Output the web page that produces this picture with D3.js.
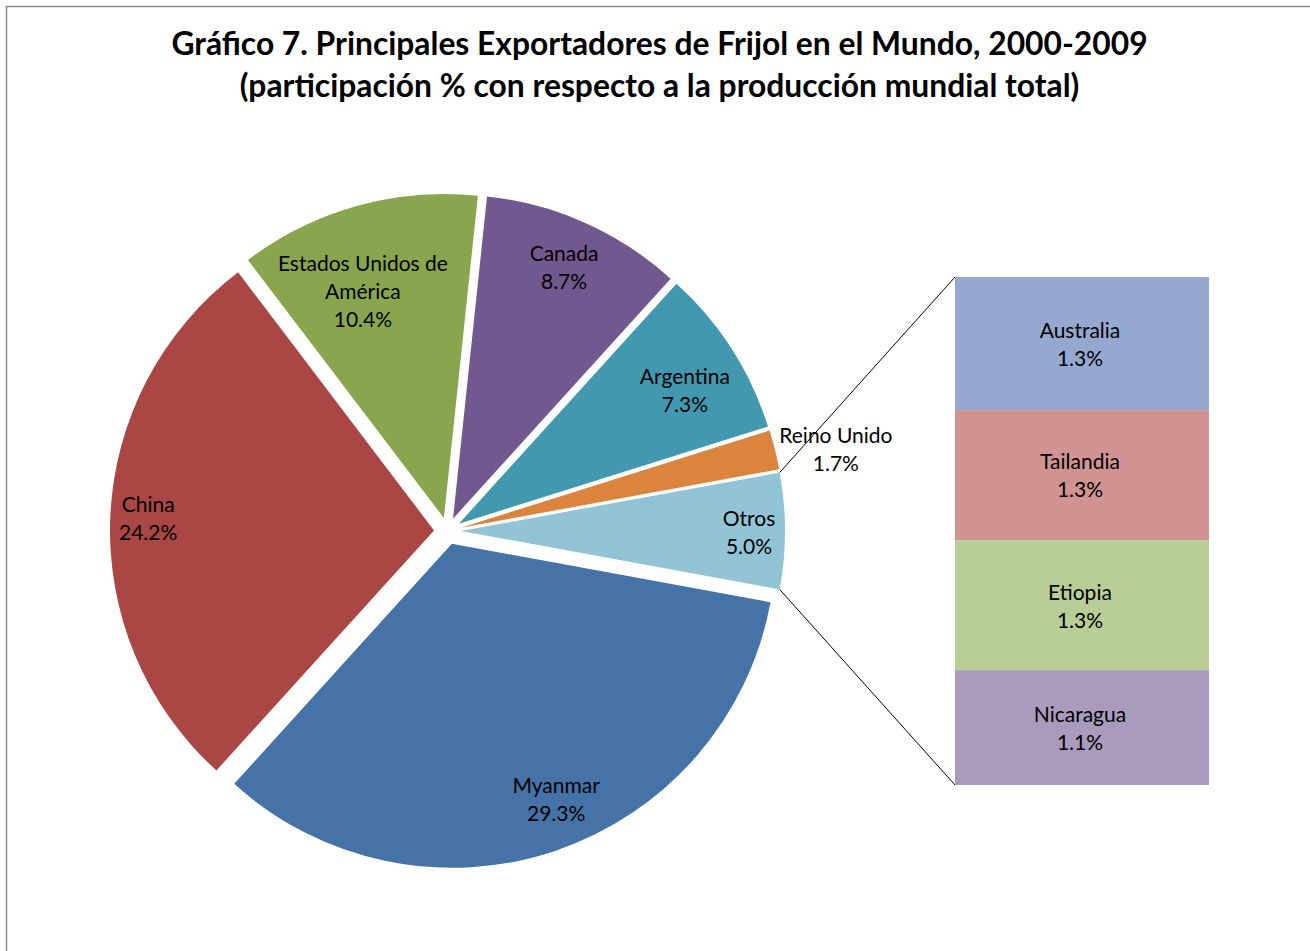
<!DOCTYPE html>
<html>
<head>
<meta charset="utf-8">
<script src="https://cdn.jsdelivr.net/npm/d3@7"></script>
<style>
  body { margin: 0; background: #fff; }
  text { font-family: Lato, Carlito, "Open Sans", sans-serif; fill: #000; }
</style>
</head>
<body>
<div id="chart"></div>
<script>
var width = 1310;
var height = 951;

// main pie: participación % (Otros = sum of the second plot)
var pieNames = ['Otros', 'Myanmar', 'China', 'Estados Unidos de América', 'Canada', 'Argentina', 'Reino Unido'];
var pieValues = [5.0, 29.3, 24.2, 10.4, 8.7, 7.3, 1.7];
var pieColors = ['#93C4D5', '#4572A7', '#AA4643', '#89A54E', '#71588F', '#4198AF', '#DB843D'];

// second plot (bar of pie)
var barNames = ['Australia', 'Tailandia', 'Etiopia', 'Nicaragua'];
var barValues = [1.31, 1.28, 1.28, 1.13];
var barColors = ['#95A9D0', '#D19392', '#B9CD96', '#A99BBD'];

var titleLines = ['Gráfico 7. Principales Exportadores de Frijol en el Mundo, 2000-2009',
                  '(participación % con respecto a la producción mundial total)'];

// label wrapping + placement tweaks (angle offset in deg, radius factor)
var labelLines = {
  'Estados Unidos de América': ['Estados Unidos de', 'América']
};
var labelTweak = {
  'Otros': [0.4, 0.889],
  'Myanmar': [-3.3, 0.853],
  'China': [-0.2, 0.883],
  'Estados Unidos de América': [-3.9, 0.741],
  'Canada': [-0.2, 0.846],
  'Argentina': [2.1, 0.809],
  'Reino Unido': [2.1, 1.183]
};

var cx = 447.5, cy = 531;
var radius = 324;
var explode = 13.5;
var lineH = 28;

var svg = d3.select('#chart').append('svg')
    .attr('width', width)
    .attr('height', height);

// chart frame
svg.append('rect')
    .attr('x', 6.5)
    .attr('y', 6.5)
    .attr('width', width + 20)
    .attr('height', height + 20)
    .attr('fill', 'none')
    .attr('stroke', '#8c8c8c')
    .attr('stroke-width', 1.5);

// title
svg.append('g').selectAll('text')
    .data(titleLines)
    .enter().append('text')
      .attr('x', 659.5)
      .attr('y', function(d, i) { return 44 + i * 42; })
      .attr('dy', '0.35em')
      .attr('text-anchor', 'middle')
      .style('font-size', '31.8px')
      .style('font-weight', 'bold')
      .text(function(d) { return d; });

var total = d3.sum(pieValues);
var otrosAngle = pieValues[0] / total * 2 * Math.PI;

var pie = d3.pie()
    .sort(null)
    .startAngle(Math.PI / 2 - otrosAngle / 2)
    .endAngle(Math.PI / 2 - otrosAngle / 2 + 2 * Math.PI);

var arc = d3.arc()
    .innerRadius(0)
    .outerRadius(radius);

var arcs = pie(pieValues);
arcs.forEach(function(a, i) { a.name = pieNames[i]; a.color = pieColors[i]; });

function mid(a) { return (a.startAngle + a.endAngle) / 2; }

var pieG = svg.append('g')
    .attr('transform', 'translate(' + cx + ',' + cy + ')');

pieG.selectAll('.slice')
    .data(arcs)
    .enter().append('path')
      .attr('class', 'slice')
      .attr('transform', function(d) {
        var m = mid(d);
        return 'translate(' + (explode * Math.sin(m)) + ',' + (-explode * Math.cos(m)) + ')';
      })
      .attr('d', arc)
      .attr('fill', function(d) { return d.color; });

// pie labels
var fmt = d3.format('.1f');
arcs.forEach(function(d) {
  var t = labelTweak[d.name];
  var ang = mid(d) + t[0] * Math.PI / 180;
  var dist = explode + t[1] * radius;
  var lx = dist * Math.sin(ang);
  var ly = -dist * Math.cos(ang);
  var lines = (labelLines[d.name] || [d.name]).concat([fmt(d.value) + '%']);
  pieG.append('g').selectAll('text')
      .data(lines)
      .enter().append('text')
        .attr('x', lx)
        .attr('y', function(s, i) { return ly + (i - (lines.length - 1) / 2) * lineH; })
        .attr('dy', '0.35em')
        .attr('text-anchor', 'middle')
        .style('font-size', '21px')
        .text(function(s) { return s; });
});

// second plot: stacked bar
var barX0 = 955, barX1 = 1209;
var yScale = d3.scaleLinear()
    .domain([0, d3.sum(barValues)])
    .range([277, 785]);

var cum = [0];
barValues.forEach(function(v, i) { cum.push(cum[i] + v); });

var bar = svg.append('g');
bar.selectAll('rect')
    .data(barValues)
    .enter().append('rect')
      .attr('x', barX0)
      .attr('width', barX1 - barX0)
      .attr('y', function(d, i) { return yScale(cum[i]); })
      .attr('height', function(d, i) { return yScale(cum[i + 1]) - yScale(cum[i]); })
      .attr('fill', function(d, i) { return barColors[i]; });

barValues.forEach(function(v, i) {
  var mY = (yScale(cum[i]) + yScale(cum[i + 1])) / 2 + 1;
  bar.append('g').selectAll('text')
      .data([barNames[i], fmt(v) + '%'])
      .enter().append('text')
        .attr('x', (barX0 + barX1) / 2 - 2)
        .attr('y', function(s, j) { return mY + (j - 0.5) * lineH; })
        .attr('dy', '0.35em')
        .attr('text-anchor', 'middle')
        .style('font-size', '21px')
        .text(function(s) { return s; });
});

// connector lines from the Otros slice to the bar
var o = arcs[0];
var om = mid(o);
var ox = cx + explode * Math.sin(om), oy = cy - explode * Math.cos(om);
var corners = [
  [ox + radius * Math.sin(o.startAngle), oy - radius * Math.cos(o.startAngle), barX0, yScale(0)],
  [ox + radius * Math.sin(o.endAngle), oy - radius * Math.cos(o.endAngle), barX0, yScale(d3.sum(barValues))]
];
svg.selectAll('.connector')
    .data(corners)
    .enter().append('line')
      .attr('class', 'connector')
      .attr('x1', function(d) { return d[0]; })
      .attr('y1', function(d) { return d[1]; })
      .attr('x2', function(d) { return d[2]; })
      .attr('y2', function(d) { return d[3]; })
      .attr('stroke', '#000')
      .attr('stroke-width', 1);
</script>
</body>
</html>
